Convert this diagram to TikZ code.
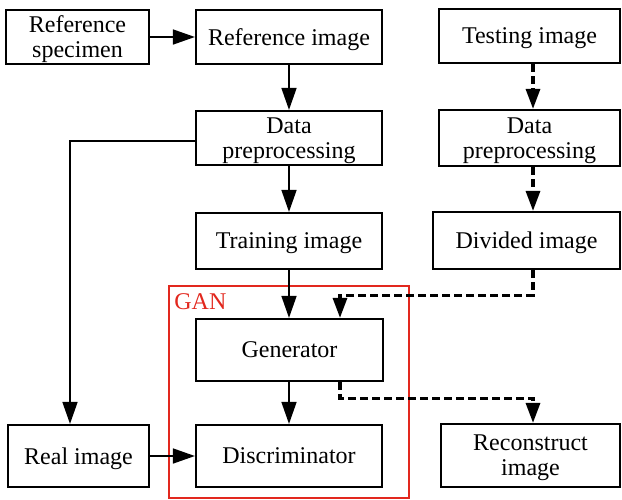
\documentclass[tikz,border=0pt]{standalone}
\usepackage{fontspec}
\setmainfont{Liberation Serif}
\usetikzlibrary{arrows.meta}
\definecolor{ganred}{RGB}{226,40,30}
\tikzset{
  box/.style={draw=black, line width=1.1pt, fill=white, align=center, inner sep=0pt,
    text depth=0pt, font=\fontsize{12}{12.5}\selectfont},
  arr/.style={line width=0.8pt, -{Triangle[length=11pt,width=7.5pt]}},
  dasharr/.style={line width=1.6pt, dash pattern=on 4pt off 2pt,
    -{Triangle[length=10pt,width=7pt]}},
}
\begin{document}
\begin{tikzpicture}[x=0.5pt,y=-0.5pt]
\useasboundingbox (0,0) rectangle (622,499);
% GAN frame
\draw[ganred, line width=1.1pt] (169,286) rectangle (409,498);
\node[ganred, anchor=base west, inner sep=0pt, font=\fontsize{12}{12.5}\selectfont] (ganlbl) at (174,309) {GAN};
% boxes
\node[box, minimum width=71.5pt, minimum height=27pt] (refspec) at (77.5,37) {Reference\\specimen};
\node[box, minimum width=93pt, minimum height=27pt] (refimg) at (289,37) {Reference image};
\node[box, minimum width=93pt, minimum height=27pt] (dp1) at (289,138) {Data\\preprocessing};
\node[box, minimum width=93pt, minimum height=28pt] (train) at (289,241) {Training image};
\node[box, minimum width=93.5pt, minimum height=31pt] (gen) at (289.5,350) {Generator};
\node[box, minimum width=93pt, minimum height=31pt] (disc) at (289,456) {Discriminator};
\node[box, minimum width=70.5pt, minimum height=31pt] (real) at (78.5,456) {Real image};
\node[box, minimum width=90.5pt, minimum height=27pt] (test) at (529.5,36) {Testing image};
\node[box, minimum width=90.5pt, minimum height=28pt] (dp2) at (529.5,138) {Data\\preprocessing};
\node[box, minimum width=93.5pt, minimum height=28.5pt] (div) at (526.5,240.5) {Divided image};
\node[box, minimum width=89.5pt, minimum height=31.5pt] (recon) at (530.5,455.5) {Reconstruct\\image};
% helper columns
\coordinate (colR) at (533,0);
\coordinate (colG) at (340,0);
\coordinate (colL) at (70,0);
% connectors
\draw[arr] (refspec.east) -- (refimg.west);
\draw[arr] (refimg.south) -- (dp1.north);
\draw[arr] (dp1.south) -- (train.north);
\draw[arr] (train.south) -- (gen.north -| train.south);
\draw[arr] (gen.south -| disc.north) -- (disc.north);
\draw[arr] (real.east) -- (disc.west);
\draw[arr] ([yshift=-1.5pt]dp1.west) -| (real.north -| colL);
\draw[dasharr] (test.south -| colR) -- (dp2.north -| colR);
\draw[dasharr] (dp2.south -| colR) -- (div.north -| colR);
\draw[dasharr] (div.south -| colR) -- ++(0,25) -| (gen.north -| colG);
\draw[dasharr] (gen.south -| colG) -- ++(0,16) -| (recon.north -| colR);
\end{tikzpicture}
\end{document}
